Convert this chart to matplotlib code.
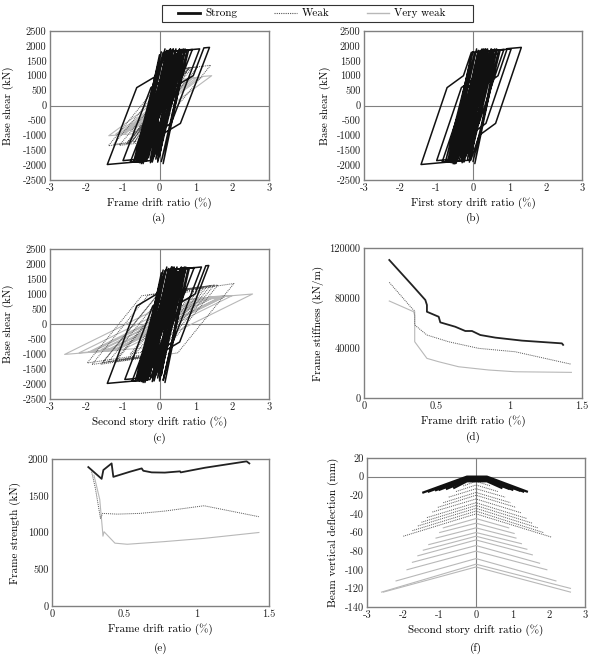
import numpy as np
import matplotlib
matplotlib.use("Agg")
import matplotlib.pyplot as plt
from matplotlib.lines import Line2D
from matplotlib.patches import Rectangle

plt.rcParams['font.family'] = ['cmr10', 'DejaVu Serif']
plt.rcParams['axes.unicode_minus'] = False
plt.rcParams['axes.formatter.use_mathtext'] = False

# ---- hysteresis peaks (base shear is shared, drifts differ per panel) ----
strong_shear = [900, -850, 1500, -1400, 1800, -1750, 1900, -1850, 1850, -1950,
                1900, -1900, 1880, -1920, 1850, -1900, 1900, -1880, 1950, -1980,
                1880, -1850, 1900, -1900, 1870, -1880, 1850, -1950, 1900, -1900,
                1850, -1880, 1800, -1850, 1780, -1800, 1700, -1650, 1500, -1300,
                1100, -800, 500,
                -1700, 1850, -1900, 1880, -1850, 1900, -1920, 1860, -1800, 1900,
                -1950, 1850, -1880, 1780, -1700, 1900, -1900, 1850, -1600, 1750,
                -1900, 1880, -1850, 1650, -1500, 1900, -1800, 1700, -1400, 1000]
strong_frame_drift = [0.1, -0.08, 0.2, -0.18, 0.3, -0.3, 0.38, -0.35, 0.45, -0.45,
                      0.3, -0.5, 0.55, -0.25, 0.6, -0.6, 0.45, -0.4, 1.37, -1.43,
                      0.9, -1.0, 1.1, -0.8, 0.8, 0.05, 0.75, 0.1, 0.7, -0.05,
                      0.6, -0.65, 0.05, -0.7, 0.1, -0.6, 0.0, -0.5, 0.2, -0.3,
                      0.15, -0.1, 0.05,
                      -0.15, 0.7, -0.2, 0.6, -0.6, 0.15, -0.55, 0.3, -0.1, 0.65,
                      -0.5, 0.2, -0.45, 0.5, 0.0, 0.55, -0.6, 0.25, -0.3, 0.45,
                      -0.5, 0.35, -0.05, 0.6, -0.35, 0.3, -0.25, 0.55, -0.3, 0.2]
strong_story1_drift = [0.1, -0.08, 0.2, -0.2, 0.28, -0.32, 0.35, -0.38, 0.42, -0.5,
                       0.3, -0.55, 0.5, -0.3, 0.55, -0.65, 0.4, -0.45, 1.33, -1.43,
                       0.85, -1.0, 1.05, -0.85, 0.75, 0.0, 0.7, 0.05, 0.65, -0.1,
                       0.55, -0.7, 0.0, -0.75, 0.05, -0.65, -0.05, -0.55, 0.15, -0.35,
                       0.1, -0.12, 0.04,
                       -0.2, 0.65, -0.25, 0.55, -0.65, 0.1, -0.6, 0.25, -0.15, 0.6,
                       -0.55, 0.15, -0.5, 0.45, -0.05, 0.5, -0.65, 0.2, -0.35, 0.4,
                       -0.55, 0.3, -0.1, 0.55, -0.4, 0.25, -0.3, 0.5, -0.35, 0.15]
strong_story2_drift = [0.1, -0.07, 0.22, -0.16, 0.32, -0.27, 0.4, -0.32, 0.48, -0.4,
                       0.33, -0.45, 0.58, -0.2, 0.62, -0.55, 0.48, -0.35, 1.35, -1.43,
                       0.95, -0.95, 1.15, -0.75, 0.82, 0.1, 0.78, 0.15, 0.72, 0.0,
                       0.65, -0.6, 0.1, -0.65, 0.15, -0.55, 0.05, -0.45, 0.25, -0.25,
                       0.2, -0.05, 0.06,
                       -0.1, 0.72, -0.15, 0.62, -0.55, 0.2, -0.5, 0.35, -0.05, 0.68,
                       -0.45, 0.25, -0.4, 0.55, 0.05, 0.6, -0.55, 0.3, -0.25, 0.5,
                       -0.45, 0.4, 0.0, 0.62, -0.3, 0.35, -0.2, 0.6, -0.25, 0.25]

weak_shear = [600, -550, 1000, -950, 1200, -1150, 1250, -1250, 1300, -1280,
              1350, -1340, 1300, -1300, 1280, -1350, 1250, -1260, 1200, -1200,
              1100, -1000, 800, -600, 300]
weak_frame_drift = [0.08, -0.08, 0.25, -0.3, 0.45, -0.5, 0.65, -0.7, 0.85, -0.9,
                    1.4, -1.1, 1.05, -1.25, 0.9, -1.4, 0.8, -0.9, 0.7, -0.75,
                    0.55, -0.5, 0.35, -0.25, 0.1]
weak_story1_drift = [0.03, -0.03, 0.08, -0.08, 0.12, -0.14, 0.16, -0.18, 0.2, -0.22,
                     0.25, -0.25, 0.24, -0.26, 0.22, -0.27, 0.2, -0.22, 0.18, -0.2,
                     0.15, -0.14, 0.1, -0.08, 0.03]
weak_story2_drift = [0.15, -0.15, 0.45, -0.5, 0.8, -0.85, 1.15, -1.2, 1.5, -1.55,
                     2.04, -1.6, 1.6, -1.98, 1.4, -1.85, 1.3, -1.4, 1.2, -1.2,
                     0.95, -0.8, 0.6, -0.4, 0.15]

vweak_shear = [500, -450, 750, -700, 850, -820, 900, -880, 950, -950,
               1000, -1014, 950, -960, 920, -940, 900, -900, 860, -850,
               800, -700, 600, -450, 200]
vweak_frame_drift = [0.08, -0.08, 0.3, -0.35, 0.5, -0.55, 0.7, -0.75, 0.9, -0.95,
                     1.43, -1.39, 1.1, -1.2, 1.0, -1.1, 0.9, -0.95, 0.8, -0.8,
                     0.65, -0.55, 0.45, -0.3, 0.1]
vweak_story1_drift = [0.02, -0.02, 0.05, -0.05, 0.07, -0.08, 0.09, -0.1, 0.11, -0.12,
                      0.13, -0.13, 0.12, -0.13, 0.12, -0.12, 0.11, -0.11, 0.1, -0.1,
                      0.09, -0.08, 0.07, -0.05, 0.02]
vweak_story2_drift = [0.25, -0.25, 0.8, -0.9, 1.2, -1.3, 1.5, -1.6, 1.85, -1.9,
                      2.55, -2.6, 2.0, -2.2, 1.8, -1.95, 1.7, -1.8, 1.6, -1.6,
                      1.3, -1.1, 0.9, -0.6, 0.2]

# loop shape:
# elastic slope, hardening slope, kink force, knee force, knee offset (None = plain bilinear)
strong_loop = {'a': (3200, 110, 600, 1000, 0.55),
               'b': (3600, 110, 600, 1000, 0.45),
               'c': (3200, 110, 600, 1000, 0.55)}
weak_loop = {'a': (1500, 150, None, None, None),
             'b': (6000, 400, None, None, None),
             'c': (1500, 180, None, None, None)}
vweak_loop = {'a': (900, 100, None, None, None),
              'b': (8000, 400, None, None, None),
              'c': (600, 100, None, None, None)}

# ---- (d) stiffness, (e) strength ----
d_strong_x = [0.174, 0.33, 0.422, 0.433, 0.433, 0.514, 0.525, 0.628, 0.697, 0.743, 0.80, 0.904, 1.087, 1.362, 1.37]
d_strong_y = [110400, 90400, 78400, 74400, 69000, 65000, 60500, 57000, 53600, 53600, 50400, 48300, 45900, 43700, 42500]
d_weak_x = [0.174, 0.33, 0.349, 0.349, 0.433, 0.582, 0.79, 1.04, 1.427]
d_weak_y = [92500, 71700, 69600, 58400, 50400, 45000, 39700, 37000, 27000]
d_vweak_x = [0.174, 0.342, 0.349, 0.349, 0.433, 0.514, 0.651, 0.858, 1.04, 1.427]
d_vweak_y = [77600, 69000, 66000, 45000, 31700, 29000, 25000, 22400, 21000, 20500]

e_strong_x = [0.251, 0.343, 0.355, 0.412, 0.424, 0.539, 0.62, 0.631, 0.689, 0.78, 0.885, 0.89, 1.057, 1.345, 1.364]
e_strong_y = [1890, 1730, 1850, 1940, 1757, 1827, 1872, 1840, 1818, 1815, 1832, 1818, 1881, 1968, 1940]
e_weak_x = [0.274, 0.30, 0.335, 0.35, 0.45, 0.608, 0.781, 1.051, 1.43]
e_weak_y = [1827, 1600, 1192, 1260, 1250, 1260, 1292, 1364, 1215]
e_vweak_x = [0.29, 0.33, 0.35, 0.352, 0.36, 0.435, 0.52, 0.77, 1.05, 1.43]
e_vweak_y = [1780, 1450, 1010, 950, 1010, 855, 840, 875, 920, 1000]

# ---- (f) beam deflection arches: apex, left end, right end ----
f_strong_apex = [0, -1, -2, -3, -4, -5]
f_strong_left = [(-1.45, -17), (-1.3, -16), (-1.1, -14.5), (-1.0, -14), (-0.8, -13), (-0.6, -12)]
f_strong_right = [(1.4, -16), (1.3, -16), (1.2, -15), (1.0, -14), (0.9, -13), (0.7, -12)]
f_strong_top = (-0.25, 0.3)
f_weak_apex = [-5, -9, -13, -17, -20, -24, -28, -31, -34, -37, -40]
f_weak_left = [(-0.35, -10), (-0.55, -16), (-0.75, -22), (-0.9, -28), (-1.05, -33), (-1.2, -38),
               (-1.35, -44), (-1.5, -49), (-1.6, -53), (-1.75, -58), (-2.0, -64)]
f_weak_right = [(0.4, -10), (0.6, -16), (0.8, -22), (0.95, -28), (1.1, -33), (1.25, -39),
                (1.4, -45), (1.55, -50), (1.7, -55), (1.85, -60), (2.08, -65)]
f_vweak_apex = [-45, -50, -55, -60, -64, -68, -74, -80, -88, -94, -97]
f_vweak_left = [(-0.9, -55), (-1.0, -60), (-1.1, -66), (-1.3, -73), (-1.45, -79), (-1.6, -85),
                (-1.75, -92), (-1.9, -100), (-2.2, -112), (-2.6, -124), (-2.55, -124)]
f_vweak_right = [(0.9, -55), (1.05, -61), (1.1, -66), (1.25, -72), (1.4, -78), (1.55, -84),
                 (1.75, -93), (1.95, -100), (2.2, -112), (2.6, -120), (2.6, -124)]

STRONG = dict(color='#111111', lw=1.1, ls='-')
WEAK = dict(color='#555555', lw=0.7, ls=(0, (1, 1)))
VWEAK = dict(color='#b8b8b8', lw=0.8, ls='-')
SPINE = '#808080'


def cross(x0, f0, k0, x1, f1, k1):
    # where line through (x0, f0) slope k0 meets line through (x1, f1) slope k1
    x = (f1 - f0 + k0 * x0 - k1 * x1) / (k0 - k1)
    return x, f0 + k0 * (x - x0)


def loop_path(drift, shear, params):
    k, kh, fb, fc, cs = params
    xs, ys = [0.0], [0.0]
    for d1, f1 in zip(drift, shear):
        d0, f0 = xs[-1], ys[-1]
        s = 1 if d1 > d0 else -1
        ix, iff = cross(d0, f0, k, d1, f1, kh)
        if s * (ix - d0) > 0 and s * (d1 - ix) > 0:
            done = False
            if fb is not None:
                ax_ = d0 + (s * fb - f0) / k
                kx = ax_ + s * cs
                jx, jf = cross(kx, s * fc, k, d1, f1, kh)
                hard_k = f1 + kh * (kx - d1)
                if (s * (ax_ - d0) > 0 and s * (ix - ax_) > 0 and s * (jx - kx) > 0
                        and s * (d1 - jx) > 0 and s * (hard_k - s * fc) > 0):
                    xs += [ax_, kx, jx]
                    ys += [s * fb, s * fc, jf]
                    done = True
            if not done:
                xs.append(ix)
                ys.append(iff)
        xs.append(d1)
        ys.append(f1)
    return xs, ys


W, H = 592, 655
fig = plt.figure(figsize=(W / 100, H / 100), dpi=100)


def make_ax(x0, x1, y0, y1):
    ax = fig.add_axes([x0 / W, 1 - y1 / H, (x1 - x0) / W, (y1 - y0) / H])
    for sp in ax.spines.values():
        sp.set_color(SPINE)
        sp.set_linewidth(1.0)
    ax.tick_params(length=0, pad=2.5, labelsize=7.5, colors='#222222')
    return ax


def finish(ax, xlabel, ylabel, cap, cap_y, ypad=5):
    ax.set_xlabel(xlabel, fontsize=8, labelpad=3)
    ax.set_ylabel(ylabel, fontsize=8, labelpad=ypad)
    ax.text(0.5, cap_y, cap, transform=ax.transAxes, ha='center', va='center', fontsize=8)


panels = [
    ('a', (50, 269, 31, 180), 'Frame drift ratio (%)', '(a)', 6,
     strong_frame_drift, weak_frame_drift, vweak_frame_drift),
    ('b', (364, 582, 31, 180), 'First story drift ratio (%)', '(b)', 4,
     strong_story1_drift, weak_story1_drift, vweak_story1_drift),
    ('c', (50, 269, 249, 399), 'Second story drift ratio (%)', '(c)', 6,
     strong_story2_drift, weak_story2_drift, vweak_story2_drift),
]
for key, box, xl, cap, ypad, sd, wd, vd in panels:
    ax = make_ax(*box)
    x, y = loop_path(vd, vweak_shear, vweak_loop[key])
    ax.plot(x, y, **VWEAK, zorder=1)
    x, y = loop_path(wd, weak_shear, weak_loop[key])
    ax.plot(x, y, **WEAK, zorder=2)
    x, y = loop_path(sd, strong_shear, strong_loop[key])
    ax.plot(x, y, **STRONG, zorder=3)
    ax.set_xlim(-3, 3)
    ax.set_ylim(-2500, 2500)
    ax.set_xticks(range(-3, 4))
    ax.set_yticks(range(-2500, 2501, 500))
    ax.axhline(0, color=SPINE, lw=0.8, zorder=0)
    ax.axvline(0, color=SPINE, lw=0.8, zorder=0)
    finish(ax, xl, 'Base shear (kN)', cap, -0.26, ypad)

# (d)
ax = make_ax(364, 582, 248, 398)
ax.plot(d_vweak_x, d_vweak_y, **VWEAK)
ax.plot(d_weak_x, d_weak_y, **WEAK)
ax.plot(d_strong_x, d_strong_y, color='#222222', lw=1.3)
ax.set_xlim(0, 1.5)
ax.set_ylim(0, 120000)
ax.set_xticks([0, 0.5, 1, 1.5])
ax.set_xticklabels(['0', '0.5', '1', '1.5'])
ax.set_yticks([0, 40000, 80000, 120000])
finish(ax, 'Frame drift ratio (%)', 'Frame stiffness (kN/m)', '(d)', -0.26, 4)

# (e)
ax = make_ax(52, 269, 459, 606)
ax.plot(e_vweak_x, e_vweak_y, **VWEAK)
ax.plot(e_weak_x, e_weak_y, **WEAK)
ax.plot(e_strong_x, e_strong_y, color='#222222', lw=1.3)
ax.set_xlim(0, 1.5)
ax.set_ylim(0, 2000)
ax.set_xticks([0, 0.5, 1, 1.5])
ax.set_xticklabels(['0', '0.5', '1', '1.5'])
ax.set_yticks([0, 500, 1000, 1500, 2000])
finish(ax, 'Frame drift ratio (%)', 'Frame strength (kN)', '(e)', -0.285, 5)

# (f)
ax = make_ax(367, 585, 458, 607)
for ap, (lx, ly), (rx, ry) in zip(f_vweak_apex, f_vweak_left, f_vweak_right):
    ax.plot([lx, 0, rx], [ly, ap, ry], **VWEAK)
for ap, (lx, ly), (rx, ry) in zip(f_weak_apex, f_weak_left, f_weak_right):
    ax.plot([lx, 0, rx], [ly, ap, ry], **WEAK)
for ap, (lx, ly), (rx, ry) in zip(f_strong_apex, f_strong_left, f_strong_right):
    ax.plot([lx, f_strong_top[0], f_strong_top[1], rx], [ly, ap, ap, ry],
            color='#111111', lw=1.6)
ax.axhline(0, color=SPINE, lw=0.8, zorder=0)
ax.axvline(0, color=SPINE, lw=0.8, zorder=0)
ax.set_xlim(-3, 3)
ax.set_ylim(-140, 20)
ax.set_xticks(range(-3, 4))
ax.set_yticks(range(-140, 21, 20))
finish(ax, 'Second story drift ratio (%)', 'Beam vertical deflection (mm)', '(f)', -0.275, 4)

# legend with a hand-placed frame
fig.patches.append(Rectangle((162 / W, 1 - 22 / H), 311 / W, 17 / H, transform=fig.transFigure,
                             fill=False, edgecolor='#333333', lw=0.8))
handles = [Line2D([], [], color='#111111', lw=2.0),
           Line2D([], [], color='#555555', lw=0.8, ls=(0, (1, 1))),
           Line2D([], [], color='#b8b8b8', lw=1.0)]
fig.legend(handles, ['Strong', 'Weak', 'Very weak'], ncol=3, loc='center',
           bbox_to_anchor=(312 / W, 1 - 13.5 / H), frameon=False, fontsize=8,
           handlelength=2.0, handletextpad=0.5, columnspacing=3.3, borderpad=0)

fig.savefig('out.png', dpi=100)
